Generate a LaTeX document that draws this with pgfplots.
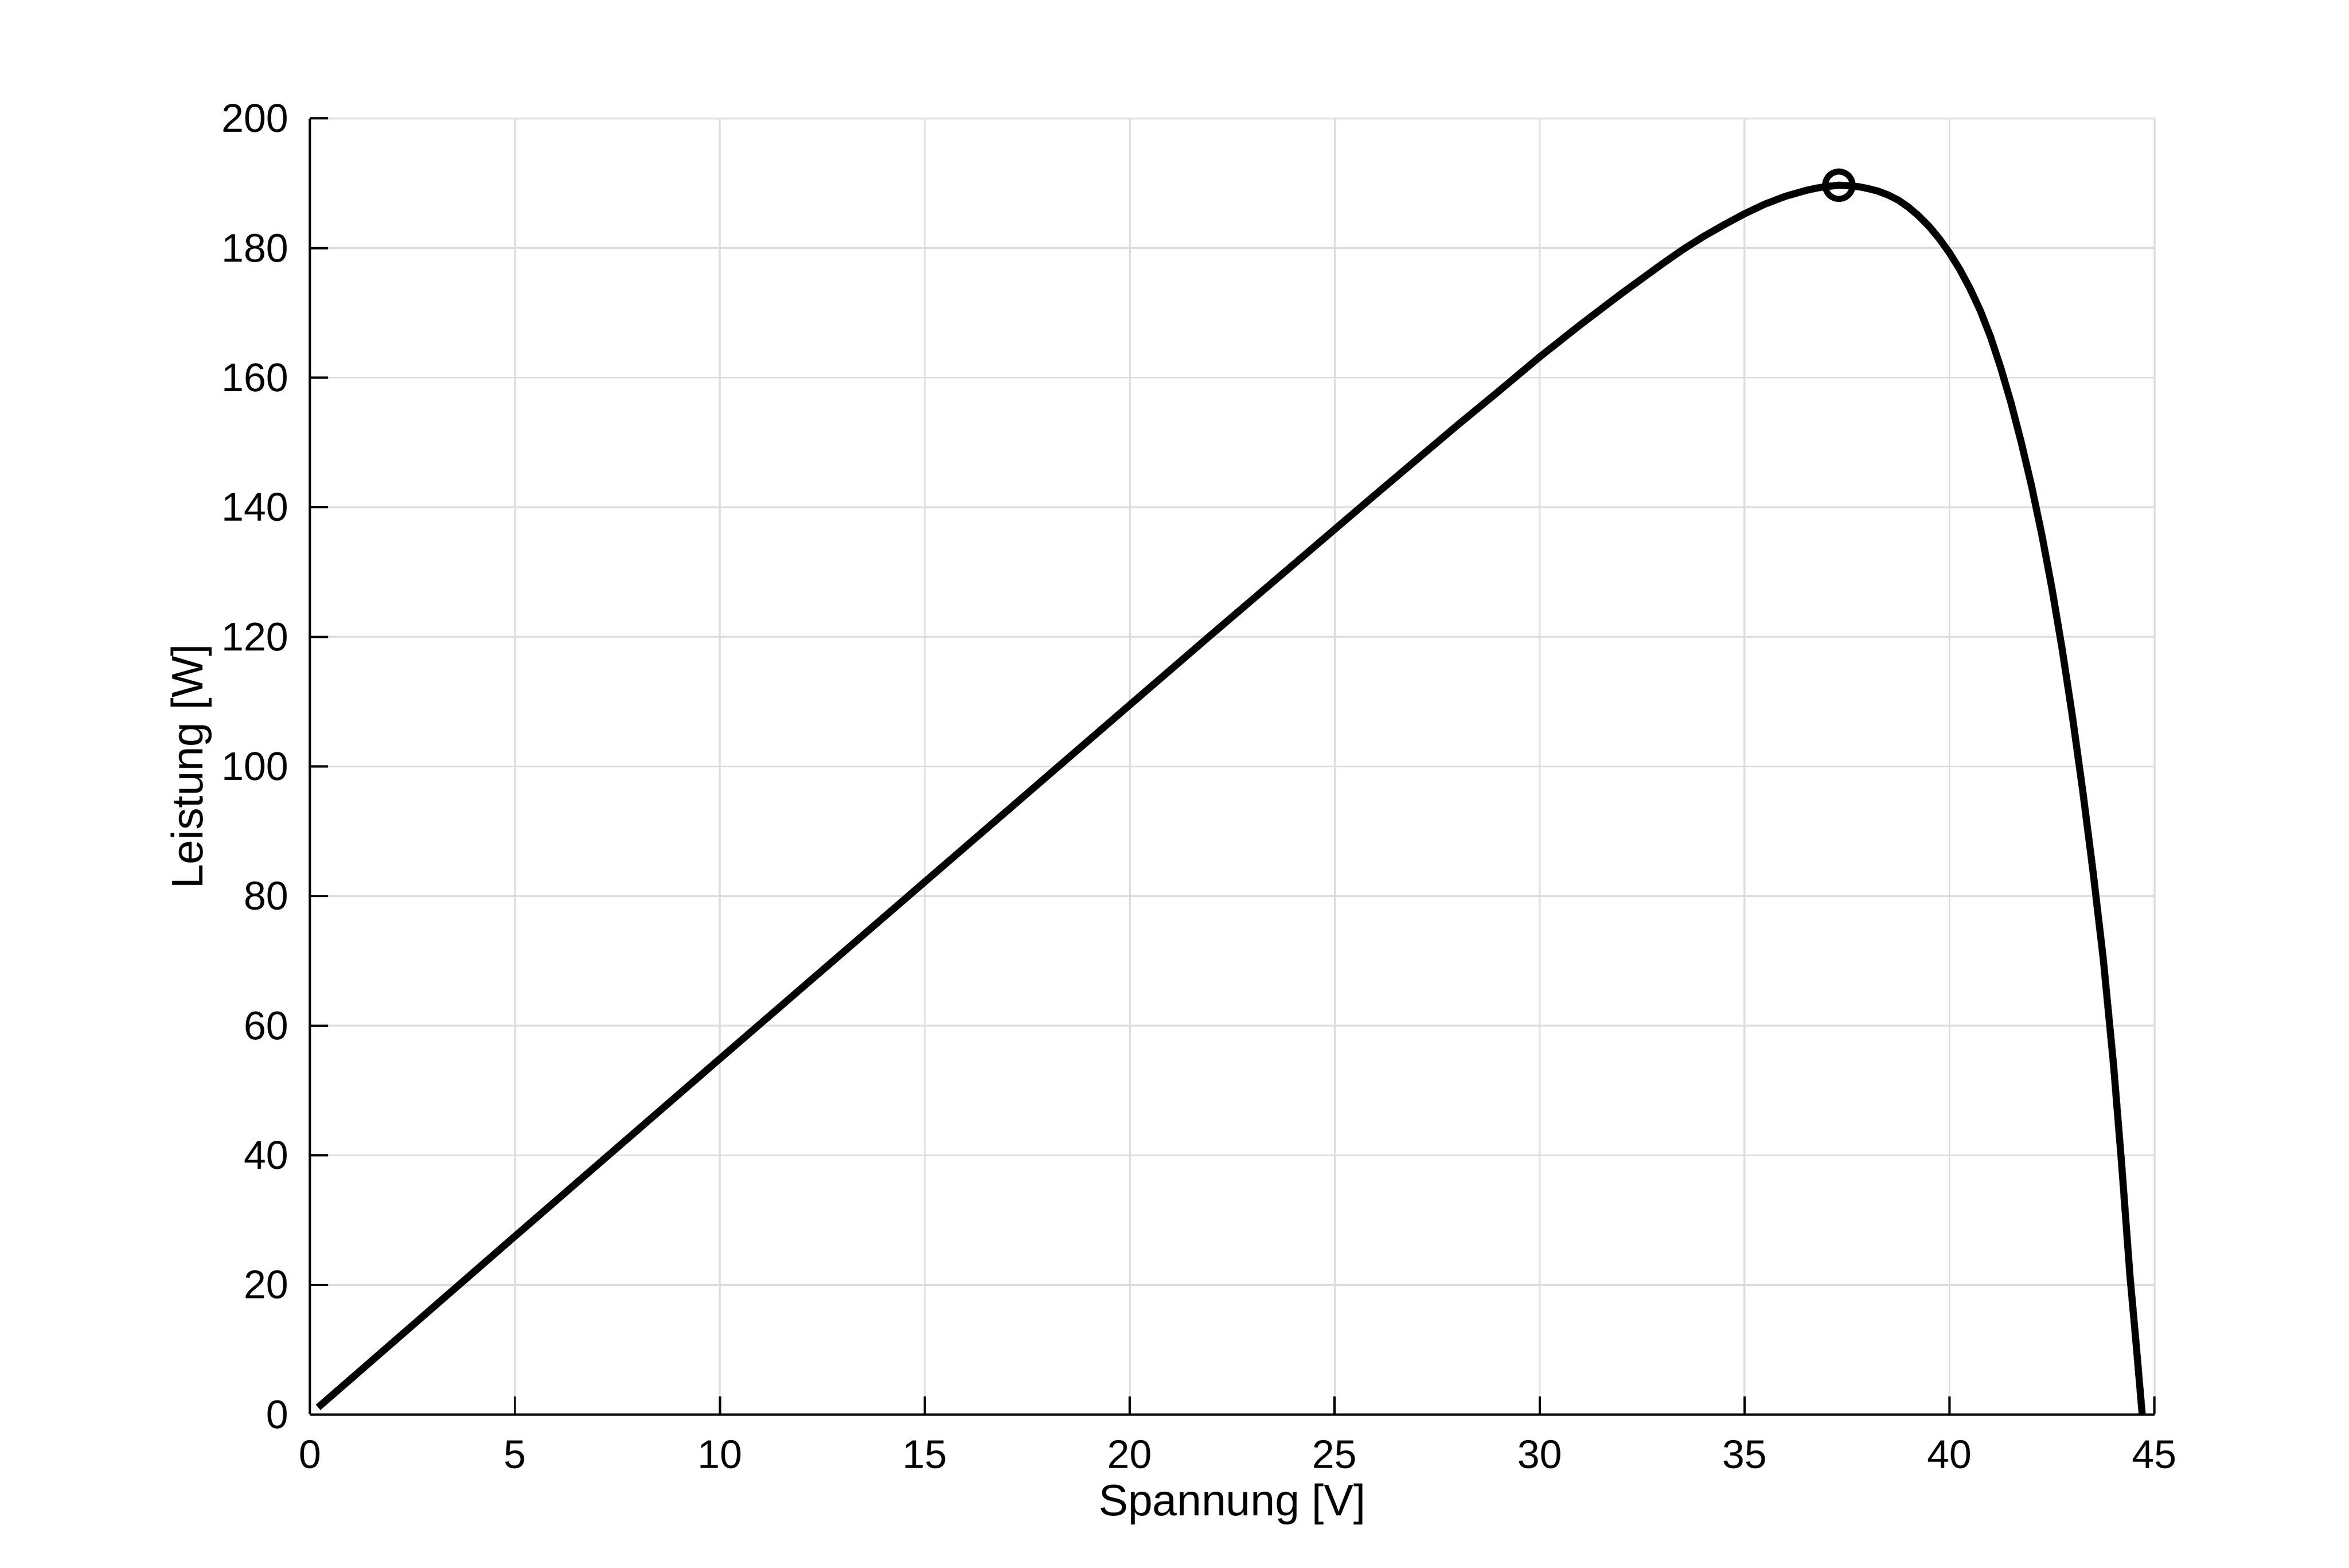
\documentclass[border=0pt]{standalone}
\usepackage{fontspec}
\setmainfont{Liberation Sans}
\usepackage{pgfplots}
\pgfplotsset{compat=1.18}

\definecolor{gridgray}{RGB}{222,222,222}

\begin{document}
\begin{tikzpicture}
	\useasboundingbox (-61.2pt,-30.3pt) rectangle (402.6pt,279.3pt);
	\begin{axis}[
	at={(0,0)}, anchor=south west,
	scale only axis,
	width=364.2pt,
	height=255.9pt,
	xmin=0, xmax=45,
	ymin=0, ymax=200,
	xtick={0,5,...,45},
	ytick={0,20,...,200},
	axis x line*=bottom,
	axis y line*=left,
	axis line style={-, line width=0.45pt},
	tick align=inside,
	major tick length=3.6pt,
	tick style={line width=0.45pt, black},
	grid=major,
	major grid style={gridgray, line width=0.35pt},
	/pgf/number format/assume math mode=true,
	tick label style={font=\fontsize{7.9}{9}\selectfont},
	xticklabel style={yshift=-1.6pt},
	yticklabel style={xshift=-0.7pt},
	label style={font=\fontsize{8.7}{10}\selectfont},
	xlabel={Spannung [V]},
	ylabel={Leistung [W]},
	xlabel style={at={(axis description cs:0.5,-0.0692)}, anchor=center},
	ylabel style={at={(axis description cs:-0.0643,0.5)}, anchor=center},
	]
	% P-V Kennlinie
	\addplot[black, line width=1.4pt, line join=round] coordinates {
		(0.2,1.1) (2,11.0) (5,27.5) (10,54.9) (15,82.2) (20,109.5)
		(22,120.4) (24,131.2) (26,142.0) (28,152.7) (29,157.9) (30,163.2)
		(30.5,165.7) (31,168.2) (31.5,170.6) (32,173.0) (32.5,175.3) (33,177.6)
		(33.5,179.8) (34,181.8) (34.5,183.6) (35,185.3) (35.5,186.8) (36,188.0)
		(36.5,188.9) (36.75,189.25) (37,189.5) (37.3,189.7) (37.6,189.6) (37.8,189.45)
		(38,189.2) (38.25,188.8) (38.5,188.2) (38.75,187.4) (39,186.3) (39.25,184.95)
		(39.5,183.35) (39.75,181.45) (40,179.25) (40.25,176.7) (40.5,173.75) (40.75,170.35)
		(41,166.3) (41.25,161.5) (41.5,156.1) (41.75,150.0) (42,143.3) (42.25,135.8)
		(42.5,127.4) (42.75,118.0) (43,107.6) (43.25,96.2) (43.5,83.8) (43.75,70.3)
		(44,54.0) (44.2,38.5) (44.4,21.5) (44.55,11.0) (44.7,0)
	};
	% MPP
	\addplot[only marks, mark=o, mark size=2.7pt, mark options={black, line width=1.2pt}]
	coordinates {(37.3,189.7)};
	\end{axis}
\end{tikzpicture}
\end{document}
